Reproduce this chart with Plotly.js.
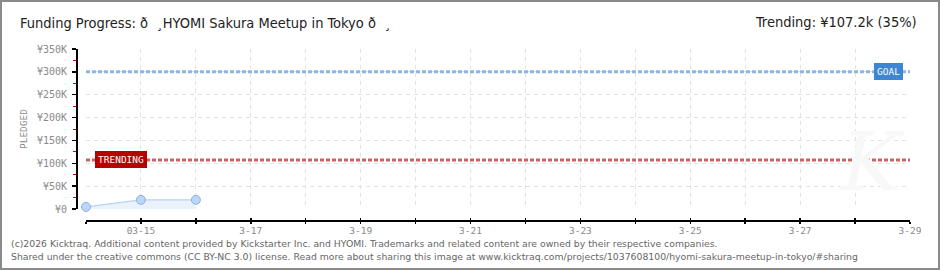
<!DOCTYPE html>
<html>
<head>
<meta charset="utf-8">
<script src="https://cdn.plot.ly/plotly-3.0.1.min.js"></script>
<style>html,body{margin:0;padding:0;background:#fff;}#chart{width:940px;height:270px;}</style>
</head>
<body>
<div id="chart"></div>
<script>
// ---- data ----
const dates = ['2026-03-14', '2026-03-15', '2026-03-16'];
const pledged = [4500, 20000, 20000];
const goal = 300000;
const trending = 107200;
const xRange = ['2026-03-14', '2026-03-29'];
const dayTicks = ['2026-03-14','2026-03-15','2026-03-16','2026-03-17','2026-03-18','2026-03-19','2026-03-20','2026-03-21','2026-03-22','2026-03-23','2026-03-24','2026-03-25','2026-03-26','2026-03-27','2026-03-28','2026-03-29'];
const dayLabels = ['','03-15','','3-17','','3-19','','3-21','','3-23','','3-25','','3-27','','3-29'];
const yTickVals = [0, 50000, 100000, 150000, 200000, 250000, 300000, 350000];
const yTickText = ['¥0','¥50K','¥100K','¥150K','¥200K','¥250K','¥300K','¥350K'];
const titleText = 'Funding Progress: ð\u00a0\u00a0¸HYOMI Sakura Meetup in Tokyo ð\u00a0\u00a0¸';
const trendText = 'Trending: ¥107.2k (35%)';
const footer1 = '(c)2026 Kicktraq. Additional content provided by Kickstarter Inc. and HYOMI. Trademarks and related content are owned by their respective companies.';
const footer2 = 'Shared under the creative commons (CC BY-NC 3.0) license. Read more about sharing this image at www.kicktraq.com/projects/1037608100/hyomi-sakura-meetup-in-tokyo/#sharing';

// ---- geometry ----
const W = 940, H = 270;
const mL = 76, mR = 30, mT = 49, mB = 50;
const pw = W - mL - mR, ph = H - mT - mB;
const px = v => (v - mL) / pw;          // pixel x -> paper x
const py = v => (H - mB - v) / ph;      // pixel y -> paper y

const pixFont = 'DejaVu Sans Mono, monospace';
const headFont = 'DejaVu Sans Condensed, Liberation Sans Narrow, sans-serif';

const traces = [
  {
    x: dates, y: pledged, type: 'scatter', mode: 'lines+markers',
    fill: 'tozeroy', fillcolor: '#eaf2fc', cliponaxis: false,
    line: {color: '#b7d3f2', width: 1.2},
    marker: {size: 9, color: '#bcd6f5', line: {color: '#8eb0da', width: 1}},
    hoverinfo: 'skip', showlegend: false
  },
  {x: [], y: [], xaxis: 'x2', yaxis: 'y', type: 'scatter', showlegend: false}
];

const layout = {
  width: W, height: H,
  margin: {l: mL, r: mR, t: mT, b: mB, pad: 0},
  paper_bgcolor: '#ffffff', plot_bgcolor: '#ffffff',
  showlegend: false,
  title: {
    text: titleText, xref: 'container', yref: 'container',
    x: 20 / W, xanchor: 'left', y: 1 - 23 / H, yanchor: 'middle',
    font: {family: headFont, size: 14.5, color: '#222'}
  },
  xaxis: {
    type: 'date', range: xRange, domain: [px(86), 1],
    anchor: 'free', position: 0,
    tickmode: 'array', tickvals: dayTicks, ticktext: dayLabels,
    ticks: 'outside', ticklen: 2, tickwidth: 1.5, tickcolor: '#000',
    showline: true, linecolor: '#000', linewidth: 1.5,
    showgrid: true, gridcolor: '#e2e2e2', griddash: '4px,4px', gridwidth: 1,
    zeroline: false, ticklabelstandoff: -1,
    tickfont: {family: pixFont, size: 9.5, color: '#8a8a8a'}
  },
  xaxis2: {
    type: 'date', range: xRange, domain: [px(86), 1],
    overlaying: 'x', anchor: 'free', position: 0,
    tickmode: 'array', tickvals: dayTicks, ticktext: dayLabels,
    ticks: 'inside', ticklen: 2, tickwidth: 1.5, tickcolor: '#000',
    showticklabels: false, showgrid: false, showline: false, zeroline: false
  },
  yaxis: {
    range: [0, 350000], domain: [py(209), 1],
    anchor: 'free', position: 0,
    tickmode: 'array', tickvals: yTickVals, ticktext: yTickText,
    ticks: 'outside', ticklen: 4, tickwidth: 1.5, tickcolor: '#000',
    minor: {tickmode: 'linear', tick0: 25000, dtick: 50000, ticks: 'outside', ticklen: 3, tickcolor: '#e00000', tickwidth: 1, showgrid: false},
    showline: true, linecolor: '#000', linewidth: 1.5,
    showgrid: true, gridcolor: '#e2e2e2', griddash: '4px,4px', gridwidth: 1,
    zeroline: false,
    ticklabelstandoff: 3,
    tickfont: {family: pixFont, size: 10, color: '#8a8a8a'},
    title: {text: 'PLEDGED', standoff: 6, font: {family: pixFont, size: 9.5, color: '#888'}}
  },
  shapes: [
    {type: 'line', xref: 'paper', yref: 'y', x0: px(86), x1: 1, y0: goal, y1: goal,
     line: {color: '#8fb4e3', width: 3, dash: '4px,2px'}},
    {type: 'line', xref: 'paper', yref: 'y', x0: px(86), x1: 1, y0: trending, y1: trending,
     line: {color: '#cc6262', width: 3, dash: '4px,2px'}},
    {type: 'rect', xref: 'paper', yref: 'paper', x0: px(1), x1: px(939), y0: py(1), y1: py(269),
     line: {color: '#8a8a8a', width: 2}, fillcolor: 'rgba(0,0,0,0)', layer: 'above'}
  ],
  annotations: [
    {text: '<i>K</i>', xref: 'paper', yref: 'paper', x: px(872), y: py(162), showarrow: false,
     xanchor: 'center', yanchor: 'middle',
     font: {family: 'DejaVu Serif, serif', size: 80, color: '#f8f8f8'}},
    {text: 'GOAL', xref: 'paper', yref: 'y', x: px(888), y: goal, xanchor: 'center', yanchor: 'middle', showarrow: false,
     bgcolor: '#3d86d4', bordercolor: '#3d86d4', borderpad: 2, borderwidth: 1,
     font: {family: pixFont, size: 9.5, color: '#fff'}},
    {text: 'TRENDING', xref: 'paper', yref: 'y', x: px(120.5), y: trending, xanchor: 'center', yanchor: 'middle', showarrow: false,
     bgcolor: '#b80000', bordercolor: '#b80000', borderpad: 2, borderwidth: 1,
     font: {family: pixFont, size: 9.5, color: '#fff'}},
    {text: trendText, xref: 'paper', yref: 'paper', x: px(919), y: py(22), xanchor: 'right', yanchor: 'middle',
     showarrow: false, font: {family: headFont, size: 14.5, color: '#222'}},
    {text: footer1, xref: 'paper', yref: 'paper', x: px(9), y: py(243), xanchor: 'left', yanchor: 'middle',
     showarrow: false, font: {family: 'DejaVu Sans, sans-serif', size: 9.3, color: '#666'}},
    {text: footer2, xref: 'paper', yref: 'paper', x: px(9), y: py(256), xanchor: 'left', yanchor: 'middle',
     showarrow: false, font: {family: 'DejaVu Sans, sans-serif', size: 9.3, color: '#666'}}
  ]
};

Plotly.newPlot('chart', traces, layout, {staticPlot: true, displayModeBar: false});
</script>
</body>
</html>
